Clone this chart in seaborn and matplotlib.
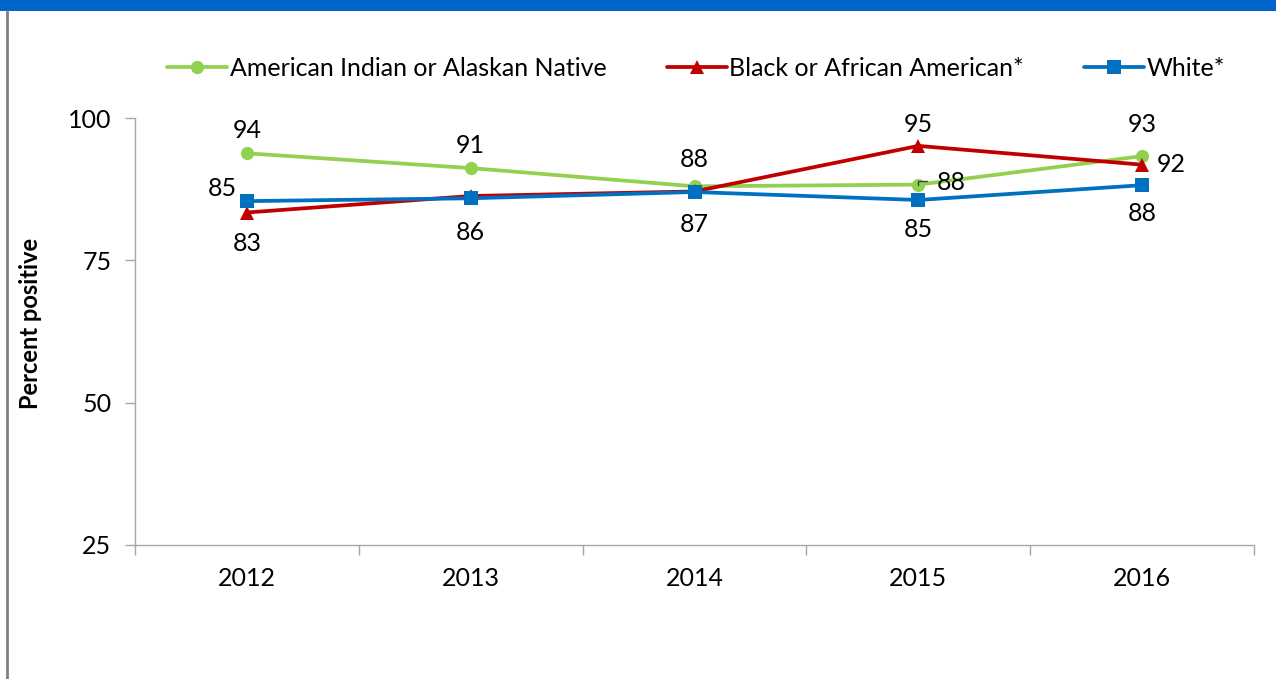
import matplotlib
matplotlib.use("Agg")
import matplotlib.pyplot as plt
from matplotlib.patches import Rectangle
from matplotlib.lines import Line2D
import seaborn as sns
import pandas as pd

years = ["2012", "2013", "2014", "2015", "2016"]
aian = [93.8, 91.2, 88.0, 88.3, 93.3]
black = [83.4, 86.3, 87.1, 95.1, 91.8]
white = [85.4, 85.9, 87.0, 85.6, 88.2]

series_names = ["American Indian or Alaskan Native", "Black or African American*", "White*"]
colors = ["#92D050", "#C00000", "#0070C0"]
markers = ["o", "^", "s"]

df = pd.DataFrame({
    "year": years * 3,
    "value": aian + black + white,
    "group": [series_names[0]] * 5 + [series_names[1]] * 5 + [series_names[2]] * 5,
})

sns.set_style("white")
plt.rcParams["font.family"] = ["Lato", "DejaVu Sans"]
plt.rcParams["text.color"] = "black"

W, H, DPI = 1276, 679, 100
fig = plt.figure(figsize=(W / DPI, H / DPI), dpi=DPI)
ax = fig.add_axes([135 / W, 1 - 545 / H, (1254 - 135) / W, (545 - 118) / H])

sns.lineplot(
    data=df, x="year", y="value", hue="group", style="group",
    hue_order=series_names, style_order=series_names,
    palette=dict(zip(series_names, colors)),
    markers=dict(zip(series_names, markers)), dashes=False,
    linewidth=2.7, markersize=9.5, markeredgewidth=0,
    sort=False, legend=False, ax=ax,
)

ax.set_xlim(-0.5, 4.5)
ax.set_ylim(25, 100)
ax.set_yticks([25, 50, 75, 100])
ax.set_xticks(range(5))
ax.set_xticklabels(years)
ax.set_xticks([i - 0.5 for i in range(6)], minor=True)
ax.tick_params(axis="x", which="major", bottom=True, length=0, pad=16, labelsize=18,
               labelcolor="black")
ax.tick_params(axis="x", which="minor", bottom=True, length=7, width=1, color="#A6A6A6",
               direction="out")
ax.tick_params(axis="y", left=True, length=7, width=1, color="#A6A6A6", direction="out",
               pad=10, labelsize=18, labelcolor="black")
ax.set_xlabel("")
ax.set_ylabel("Percent positive", fontsize=17, fontweight="bold", color="black")
ax.yaxis.set_label_coords((42 - 135) / (1254 - 135), 0.52)
for side in ["top", "right"]:
    ax.spines[side].set_visible(False)
for side in ["left", "bottom"]:
    ax.spines[side].set_color("#A6A6A6")
    ax.spines[side].set_linewidth(1)

# value labels: (x index, value, text, dx px, dy px, ha)
px = 72 / DPI
labels = [
    (0, aian[0], "94", 0, 23, "center"),
    (1, aian[1], "91", 0, 23, "center"),
    (2, aian[2], "88", 0, 27, "center"),
    (3, aian[3], "88", 18, 2, "left"),
    (4, aian[4], "93", 0, 32, "center"),
    (0, black[0], "83", 0, -31, "center"),
    (3, black[3], "95", 0, 21, "center"),
    (4, black[4], "92", 15, 0, "left"),
    (0, white[0], "85", -10, 13, "right"),
    (1, white[1], "86", 0, -34, "center"),
    (2, white[2], "87", 0, -32, "center"),
    (3, white[3], "85", 0, -30, "center"),
    (4, white[4], "88", 0, -28, "center"),
]
for xi, v, t, dx, dy, ha in labels:
    ax.annotate(t, (xi, v), xytext=(dx * px, dy * px), textcoords="offset points",
                ha=ha, va="center", fontsize=18, color="black")

# short leader line beside the 2015 label of the first series
ax.annotate("", (3, aian[3]), xytext=(9 * px, 4 * px), textcoords="offset points",
            arrowprops=dict(arrowstyle="-", color="#404040", lw=1,
                            connectionstyle="angle,angleA=0,angleB=90,rad=0",
                            shrinkA=0, shrinkB=0, relpos=(0, 0)))

handles = [Line2D([0], [0], color=c, marker=m, lw=2.7, markersize=9.5, markeredgewidth=0)
           for c, m in zip(colors, markers)]
fig.legend(handles, series_names, loc="center", bbox_to_anchor=(696 / W, 1 - 68 / H),
           ncol=3, frameon=False, fontsize=18, handlelength=2.4, handletextpad=0.1,
           columnspacing=2.4)

# title band and frame edge
fig.patches.append(Rectangle((0, 1 - 11 / H), 1, 11 / H, transform=fig.transFigure,
                             facecolor="#0066CC", edgecolor="none"))
fig.add_artist(Line2D([7 / W, 7 / W], [0, 1 - 11 / H], transform=fig.transFigure,
                      color="#808080", lw=2))

fig.savefig("out.png", dpi=DPI)
